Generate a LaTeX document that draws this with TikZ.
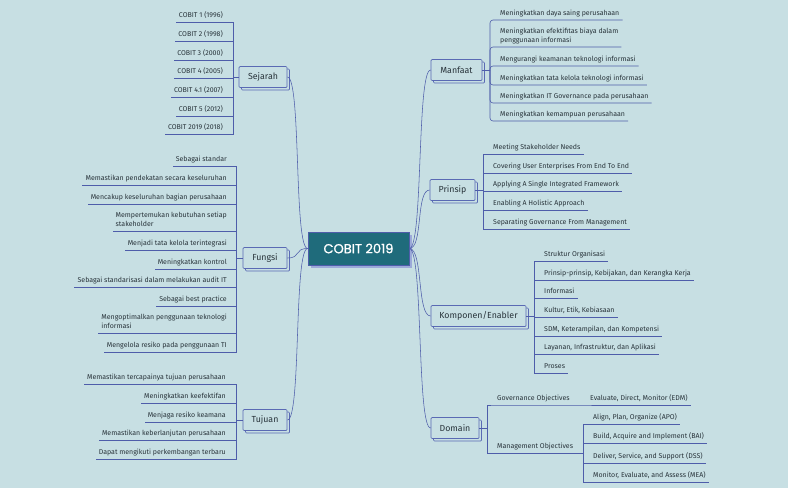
\documentclass[tikz,border=0pt]{standalone}
\usepackage{fontspec}
\setmainfont{Fira Sans}
\newfontfamily\popfont[FakeBold=1.2]{Poppins}
\usetikzlibrary{shadows}
\definecolor{bg}{HTML}{C7DFE3}
\definecolor{lineblue}{HTML}{4E5DAA}
\definecolor{boxblue}{HTML}{5A6AB4}
\definecolor{txt}{HTML}{28333A}
\definecolor{cenfill}{HTML}{1F6B7B}
\definecolor{censhadow}{HTML}{9CA9D9}
\begin{document}
\begin{tikzpicture}[x=1pt,y=-1pt,
  leafL/.style={anchor=south east, inner xsep=3pt, inner ysep=3.2pt, text depth=1.6pt,
    font=\fontsize{7}{9}\selectfont, text=txt, align=left},
  leafR/.style={leafL, anchor=south west},
  branch/.style={draw=boxblue, fill=bg, rounded corners=1pt, line width=0.7pt,
    minimum height=21pt, inner xsep=1pt, text=txt, font=\fontsize{8.8}{10}\selectfont,
    general shadow={shadow xshift=2.5pt, shadow yshift=-2.5pt, draw=boxblue, fill=bg}},
  cenbox/.style={draw=lineblue, fill=cenfill, line width=0.6pt, minimum width=101pt,
    minimum height=33pt, text=white, font=\popfont\fontsize{13}{15}\selectfont,
    general shadow={shadow xshift=3pt, shadow yshift=-3pt, fill=censhadow}},
  link/.style={draw=lineblue, line width=0.6pt},
  curve/.style={draw=lineblue, line width=0.55pt},
]
\fill[bg] (0,0) rectangle (788,488);
\useasboundingbox (0,0) rectangle (788,488);

% central and branches
\node[cenbox] (cen) at (358.5,248.5) {COBIT 2019};
\node[branch, minimum width=48pt] (sej) at (263,77) {Sejarah};
\node[branch, minimum width=44pt] (fun) at (265,258) {Fungsi};
\node[branch, minimum width=44pt] (tuj) at (265,420) {Tujuan};
\node[branch, minimum width=51pt] (man) at (456.5,70) {Manfaat};
\node[branch, minimum width=45pt] (pri) at (452.5,190) {Prinsip};
\node[branch, minimum width=95pt] (kom) at (478.5,316) {Komponen/Enabler};
\node[branch, minimum width=48pt] (dom) at (455,428) {Domain};

% curves
\foreach \b in {sej,fun,tuj}
  \draw[curve] (cen.west) .. controls +(-14,0) and +(14,0) .. (\b.east);
\foreach \b in {man,pri,kom,dom}
  \draw[curve] (cen.east) .. controls +(14,0) and +(-14,0) .. (\b.west);

% hubs
\coordinate (sejhub) at (233,77);
\coordinate (funhub) at (236,258);
\coordinate (tujhub) at (236,420);
\coordinate (manhub) at (490,70);
\coordinate (prihub) at (483,190);
\coordinate (komhub) at (534,316);
\coordinate (domhub) at (487,428);
\coordinate (mgthub) at (583,453);

\draw[link] (sej.west) -- (sejhub);
\draw[link] (fun.west) -- (funhub);
\draw[link] (tuj.west) -- (tujhub);
\draw[link] (man.east) -- (manhub);
\draw[link] (pri.east) -- (prihub);
\draw[link] (kom.east) -- (komhub);
\draw[link] (dom.east) -- (domhub);

% Sejarah
\foreach \n/\y/\t in {s1/22/{COBIT 1 (1996)}, s2/41/{COBIT 2 (1998)}, s3/60/{COBIT 3 (2000)},
  s4/78/{COBIT 4 (2005)}, s5/97/{COBIT 4.1 (2007)}, s6/116/{COBIT 5 (2012)}, s7/134/{COBIT 2019 (2018)}}{
  \node[leafL] (\n) at (226,\y) {\t};
  \draw[link] (sejhub) |- (\n.south west);
}

% Fungsi
\foreach \n/\y/\t in {f1/166/{Sebagai standar},
  f2/185/{Memastikan pendekatan secara keseluruhan},
  f3/204/{Mencakup keseluruhan bagian perusahaan},
  f4/231/{Mempertemukan kebutuhan setiap\\stakeholder},
  f5/250/{Menjadi tata kelola terintegrasi},
  f6/269/{Meningkatkan kontrol},
  f7/287/{Sebagai standarisasi dalam melakukan audit IT},
  f8/306/{Sebagai best practice},
  f9/333/{Mengoptimalkan penggunaan teknologi\\informasi},
  f10/352/{Mengelola resiko pada penggunaan TI}}{
  \node[leafL] (\n) at (230,\y) {\t};
  \draw[link] (funhub) |- (\n.south west);
}

% Tujuan
\foreach \n/\y/\t in {t1/384/{Memastikan tercapainya tujuan perusahaan},
  t2/403/{Meningkatkan keefektifan},
  t3/422/{Menjaga resiko keamana},
  t4/440/{Memastikan keberlanjutan perusahaan},
  t5/459/{Dapat mengikuti perkembangan terbaru}}{
  \node[leafL] (\n) at (229,\y) {\t};
  \draw[link] (tujhub) |- (\n.south west);
}

% Manfaat
\foreach \n/\y/\t in {m1/20/{Meningkatkan daya saing perusahaan},
  m2/47/{Meningkatkan efektifitas biaya dalam\\penggunaan informasi},
  m3/66/{Mengurangi keamanan teknologi informasi},
  m4/85/{Meningkatkan tata kelola teknologi informasi},
  m5/103/{Meningkatkan IT Governance pada perusahaan},
  m6/121/{Meningkatkan kemampuan perusahaan}}{
  \node[leafR] (\n) at (497,\y) {\t};
  \draw[link, rounded corners=3pt] (manhub) |- (\n.south east);
}

% Prinsip
\foreach \n/\y/\t in {p1/154/{Meeting Stakeholder Needs},
  p2/173/{Covering User Enterprises From End To End},
  p3/191/{Applying A Single Integrated Framework},
  p4/210/{Enabling A Holistic Approach},
  p5/229/{Separating Governance From Management}}{
  \node[leafR] (\n) at (490,\y) {\t};
  \draw[link] (prihub) |- (\n.south east);
}

% Komponen
\foreach \n/\y/\t in {k1/261/{Struktur Organisasi},
  k2/280/{Prinsip-prinsip, Kebijakan, dan Kerangka Kerja},
  k3/298/{Informasi},
  k4/317/{Kultur, Etik, Kebiasaan},
  k5/336/{SDM, Keterampilan, dan Kompetensi},
  k6/354/{Layanan, Infrastruktur, dan Aplikasi},
  k7/373/{Proses}}{
  \node[leafR] (\n) at (541,\y) {\t};
  \draw[link] (komhub) |- (\n.south east);
}

% Domain
\node[leafR] (gov) at (494,405) {Governance Objectives};
\node[leafR] (mgt) at (494,453) {Management Objectives};
\node[leafR] (edm) at (587,405) {Evaluate, Direct, Monitor (EDM)};
\draw[link] (domhub) |- (gov.south west) -- (edm.south east);
\draw[link] (domhub) |- (mgthub);
\foreach \n/\y/\t in {d1/424/{Align, Plan, Organize (APO)},
  d2/443/{Build, Acquire and Implement (BAI)},
  d3/463/{Deliver, Service, and Support (DSS)},
  d4/482/{Monitor, Evaluate, and Assess (MEA)}}{
  \node[leafR] (\n) at (590,\y) {\t};
  \draw[link] (mgthub) |- (\n.south east);
}
\end{tikzpicture}
\end{document}
